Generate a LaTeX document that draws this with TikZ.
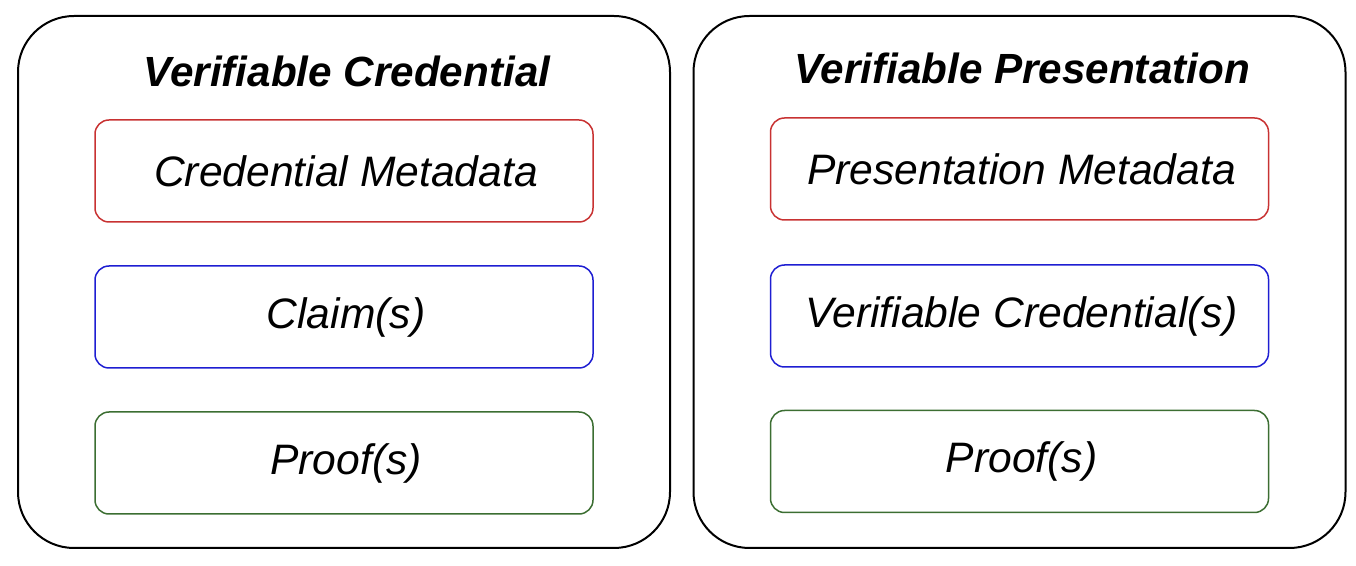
\documentclass[tikz,border=0pt]{standalone}
\usepackage{fontspec}
\setmainfont{Liberation Sans}
\definecolor{metared}{RGB}{200, 50, 50}
\definecolor{claimblue}{RGB}{30, 30, 210}
\definecolor{proofgreen}{RGB}{60, 110, 50}
\usepackage{tikz}
\usepackage{xcolor}

\begin{document}
\begin{tikzpicture}[x=0.5pt, y=-0.5pt,
    outerbox/.style={draw=black, line width=1pt, rounded corners=28pt, minimum width=326pt, minimum height=266pt},
    innerbox/.style={line width=0.75pt, rounded corners=7pt, minimum width=249pt, minimum height=51pt, font=\fontsize{21.3}{24}\selectfont\itshape},
    titletext/.style={font=\fontsize{21.1}{25}\selectfont\bfseries\itshape}]
    \useasboundingbox (0,0) rectangle (1356,566);
    % credential side
    \node[outerbox] (vc) at (344, 282) {};
    \node[titletext] (vctitle) at (347, 71) {Verifiable Credential};
    \node[innerbox, draw=metared] (vcmeta) at (344, 171) {\hspace{2pt}Credential Metadata};
    \node[innerbox, draw=claimblue] (vcclaim) at (344, 317) {\hspace{2pt}Claim(s)};
    \node[innerbox, draw=proofgreen] (vcproof) at (344, 463) {\hspace{2pt}Proof(s)};
    % presentation side
    \node[outerbox] (vp) at (1019.5, 282) {};
    \node[titletext] (vptitle) at (1022, 68) {Verifiable Presentation};
    \node[innerbox, draw=metared] (vpmeta) at (1019.5, 169) {\hspace{2pt}Presentation Metadata};
    \node[innerbox, draw=claimblue] (vpcred) at (1019.5, 316) {\hspace{2pt}Verifiable Credential(s)};
    \node[innerbox, draw=proofgreen] (vpproof) at (1019.5, 461.5) {\hspace{2pt}Proof(s)};
\end{tikzpicture}
\end{document}
